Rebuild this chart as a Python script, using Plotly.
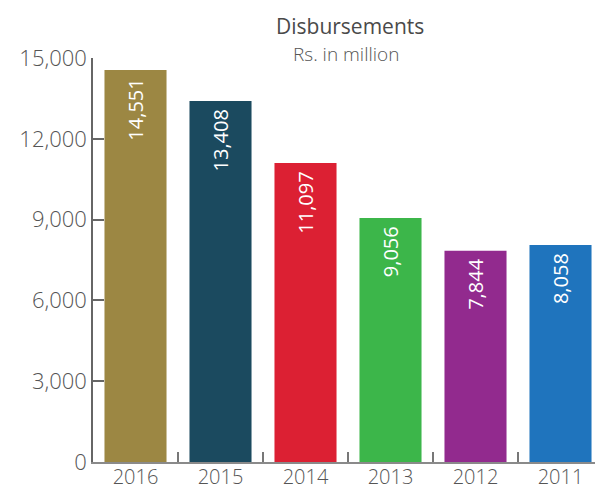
import plotly.graph_objects as go

years = ["2016", "2015", "2014", "2013", "2012", "2011"]
disbursements = [14551, 13408, 11097, 9056, 7844, 8058]
bar_colors = ["#9c8743", "#1b4a5f", "#dc2033", "#3cb64a", "#922a8e", "#1f74bd"]
y_ticks = [0, 3000, 6000, 9000, 12000, 15000]

FONT = "Open Sans"
GRAY = "#555555"

labels = [f"{v:,}" + "\u00a0" for v in disbursements]

fig = go.Figure(
    go.Bar(
        x=years,
        y=disbursements,
        marker=dict(color=bar_colors, line=dict(width=0)),
        text=labels,
        textposition="inside",
        insidetextanchor="end",
        textangle=-90,
        textfont=dict(family=FONT, size=20, color="white", weight=400),
        hoverinfo="skip",
    )
)

# page has an 8px body margin, so the figure is offset by (8, 8)
fig.update_layout(
    width=595,
    height=486,
    margin=dict(l=85, r=0, t=50, b=32),
    paper_bgcolor="white",
    plot_bgcolor="white",
    bargap=0.27,
    showlegend=False,
    font=dict(family=FONT, color=GRAY, weight=300),
    xaxis=dict(
        automargin=False,
        showline=True,
        linecolor="#8a8a8a",
        linewidth=1.5,
        ticks="inside",
        tickson="boundaries",
        ticklen=10,
        tickcolor="#777777",
        tickwidth=1.5,
        showgrid=False,
        ticklabelstandoff=-4,
        tickfont=dict(family=FONT, size=20, color=GRAY, weight=300),
        fixedrange=True,
    ),
    yaxis=dict(
        automargin=False,
        range=[0, 15000],
        tickvals=y_ticks,
        ticktext=[f"{v:,}" for v in y_ticks],
        showline=True,
        linecolor="#666666",
        linewidth=1.5,
        ticks="inside",
        ticklen=11,
        tickcolor="#666666",
        tickwidth=1.5,
        showgrid=False,
        zeroline=False,
        tickfont=dict(family=FONT, size=22, color=GRAY, weight=300),
        fixedrange=True,
    ),
    annotations=[
        dict(text="Disbursements", xref="paper", yref="paper", x=0.504, y=1.0804,
             xanchor="center", yanchor="middle", showarrow=False,
             font=dict(family=FONT, size=21, color="#4a4a4a", weight=400)),
        dict(text="Rs. in million", xref="paper", yref="paper", x=0.497, y=1.0099,
             xanchor="center", yanchor="middle", showarrow=False,
             font=dict(family=FONT, size=19, color="#555555", weight=300)),
    ],
)

fig.write_html("out.html")
